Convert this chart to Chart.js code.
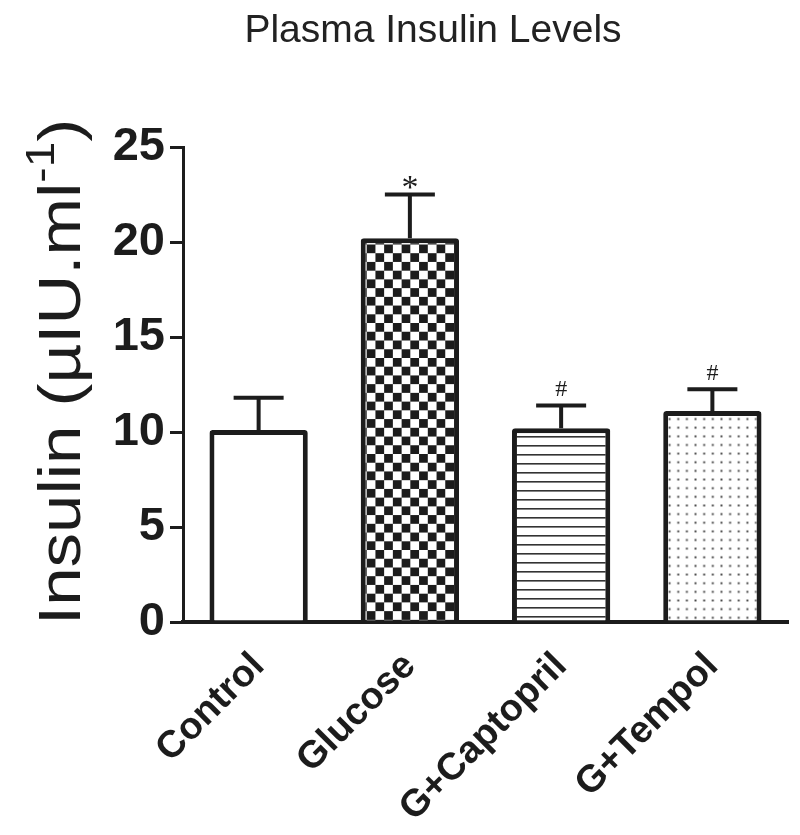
<!DOCTYPE html>
<html>
<head>
<meta charset="utf-8">
<title>Plasma Insulin Levels</title>
<script src="https://cdn.jsdelivr.net/npm/chart.js@4.4.1/dist/chart.umd.min.js"></script>
<style>
  html, body { margin: 0; padding: 0; background: #fff; }
  #wrap { width: 800px; height: 835px; position: relative; }
</style>
</head>
<body>
<div id="wrap"><canvas id="insulin-chart"></canvas></div>
<script>
// values
const groups = ['Control', 'Glucose', 'G+Captopril', 'G+Tempol'];
const insulinMean = [10.1, 20.2, 10.2, 11.1];
const insulinSem = [1.7, 2.3, 1.2, 1.15];
const sigMarks = ['', '*', '#', '#'];
const yTickValues = [0, 5, 10, 15, 20, 25];

const INK = '#1c1c1c';

// fill patterns for the bars
function makePattern(size, draw, scale) {
    const c = document.createElement('canvas');
    c.width = size;
    c.height = size;
    const g = c.getContext('2d');
    g.fillStyle = '#fff';
    g.fillRect(0, 0, size, size);
    draw(g);
    const p = g.createPattern(c, 'repeat');
    if (scale && p.setTransform) p.setTransform(new DOMMatrix().scale(scale));
    return p;
}

const ctx = document.getElementById('insulin-chart').getContext('2d');

const checker = makePattern(18, g => {
    g.fillStyle = INK;
    g.fillRect(0, 0, 9, 9);
    g.fillRect(9, 9, 9, 9);
}, 0.97);

const hLines = makePattern(9, g => {
    g.fillStyle = '#333';
    g.fillRect(0, 4, 9, 1.6);
});

const dots = makePattern(9, g => {
    g.fillStyle = '#444';
    g.fillRect(3.5, 3.5, 2, 2);
}, 0.96);

const barFills = ['#ffffff', checker, hLines, dots];

// title, y axis title, error bars and significance marks
const annotate = {
    id: 'annotate',
    afterDatasetsDraw(chart) {
        const c = chart.ctx;
        const x = chart.scales.x;
        const y = chart.scales.y;

        c.save();
        c.strokeStyle = INK;
        c.lineWidth = 4;
        c.lineCap = 'butt';
        insulinMean.forEach((m, i) => {
            const px = x.getPixelForValue(i);
            const top = y.getPixelForValue(m + insulinSem[i]);
            const base = y.getPixelForValue(m);
            c.beginPath();
            c.moveTo(px, base);
            c.lineTo(px, top);
            c.moveTo(px - 25, top);
            c.lineTo(px + 25, top);
            c.stroke();

            if (sigMarks[i]) {
                c.fillStyle = INK;
                c.textAlign = 'center';
                c.textBaseline = 'alphabetic';
                if (sigMarks[i] === '*') {
                    c.font = '34px "Liberation Serif"';
                    c.fillText('*', px, top + 3);
                } else {
                    c.font = '24px "Liberation Serif"';
                    c.fillText('#', px, top - 9);
                }
            }
        });
        c.restore();
    },
    afterDraw(chart) {
        const c = chart.ctx;
        c.save();
        c.fillStyle = '#222';
        c.textAlign = 'center';
        c.textBaseline = 'alphabetic';
        c.font = '39px "Liberation Sans"';
        c.fillText('Plasma Insulin Levels', 433, 42);
        c.restore();

        // rotated y title with superscript
        c.save();
        c.fillStyle = INK;
        c.translate(80, 625);
        c.rotate(-Math.PI / 2);
        c.scale(1.15, 1);
        c.textAlign = 'left';
        c.textBaseline = 'alphabetic';
        c.font = '60px "Liberation Sans"';
        const main = 'Insulin (\u00b5IU.ml';
        c.fillText(main, 0, 0);
        let run = c.measureText(main).width;
        c.font = '40px "Liberation Sans"';
        c.fillText('-1', run, -26);
        run += c.measureText('-1').width;
        c.font = '60px "Liberation Sans"';
        c.fillText(')', run, 0);
        c.restore();
    }
};

new Chart(ctx, {
    type: 'bar',
    data: {
        labels: groups,
        datasets: [{
            label: 'Insulin',
            data: insulinMean,
            backgroundColor: barFills,
            borderColor: INK,
            borderWidth: 5,
            borderRadius: 3,
            borderSkipped: 'start',
            categoryPercentage: 1,
            barPercentage: 0.65
        }]
    },
    options: {
        responsive: true,
        maintainAspectRatio: false,
        animation: false,
        layout: { padding: { top: 147, right: 12, left: 0, bottom: 0 } },
        plugins: {
            legend: { display: false },
            tooltip: { enabled: false },
            title: { display: false }
        },
        scales: {
            x: {
                z: 1,
                grid: { display: false },
                border: { color: INK, width: 4 },
                ticks: {
                    color: INK,
                    minRotation: 45,
                    maxRotation: 45,
                    padding: 14,
                    font: { family: '"Liberation Sans", Arial', size: 38, weight: 'bold' }
                },
                afterFit: s => { s.height = 213; }
            },
            y: {
                min: 0,
                max: 25,
                afterBuildTicks: s => { s.ticks = yTickValues.map(v => ({ value: v })); },
                grid: { drawOnChartArea: false, drawTicks: true, tickLength: 13, color: INK, lineWidth: 3 },
                border: { color: INK, width: 3 },
                ticks: {
                    color: INK,
                    padding: 5,
                    font: { family: '"Liberation Sans", Arial', size: 47, weight: 'bold' }
                },
                afterFit: s => { s.width = 183; }
            }
        }
    },
    plugins: [annotate]
});
</script>
</body>
</html>
